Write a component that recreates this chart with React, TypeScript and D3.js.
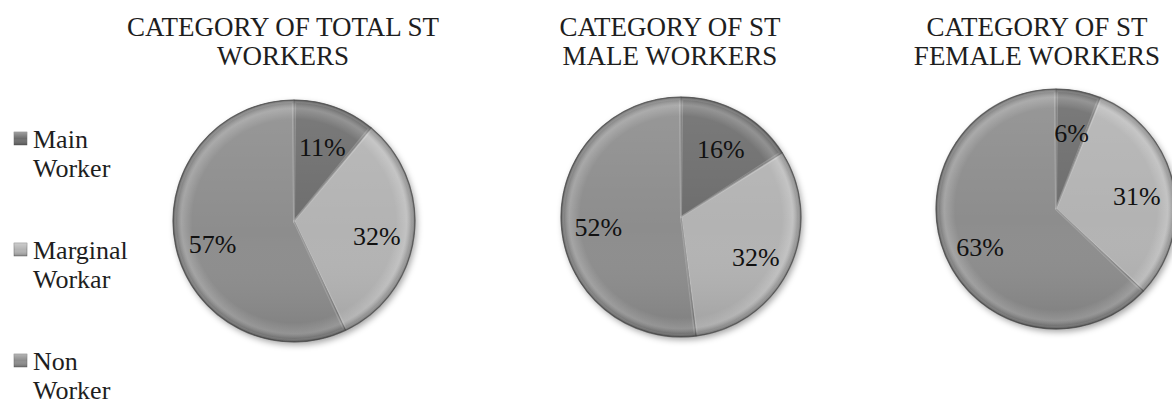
import React from "react";
import * as d3 from "d3";

const categories = ["Main Worker", "Marginal Workar", "Non Worker"];
const legendLines = [["Main", "Worker"], ["Marginal", "Workar"], ["Non", "Worker"]];
const totalValues = [11, 32, 57];
const maleValues = [16, 32, 52];
const femaleValues = [6, 31, 63];
const chartTitles = [
  ["CATEGORY OF TOTAL ST", "WORKERS"],
  ["CATEGORY OF ST", "MALE WORKERS"],
  ["CATEGORY OF ST", "FEMALE WORKERS"],
];
const sliceColors = ["#6d6d6d", "#b3b3b3", "#8d8d8d"];

const W = 1172;
const H = 405;
const SERIF = "Liberation Serif";

const pies = [
  { values: totalValues, title: chartTitles[0], cx: 294, cy: 221, r: 121, tx: 283 },
  { values: maleValues, title: chartTitles[1], cx: 681, cy: 217, r: 120, tx: 670 },
  { values: femaleValues, title: chartTitles[2], cx: 1056, cy: 209, r: 120, tx: 1037 },
];

const colorScale = d3.scaleOrdinal<string, string>().domain(categories).range(sliceColors);

function T(props: any) {
  const { children, ...rest } = props;
  return (
    <text {...rest} fontFamily={SERIF} style={{ fontFamily: `"${SERIF}"` }}>
      {children}
    </text>
  );
}

export default function App() {
  const pieGen = d3.pie<number>().sort(null).value((d) => d);
  return (
    <div style={{ position: "absolute", left: 0, top: 0 }}>
      <svg width={W} height={H} style={{ display: "block", background: "#fff" }}>
        <defs>
          <filter id="shadow" x="-20%" y="-20%" width="140%" height="140%">
            <feDropShadow dx="2" dy="3" stdDeviation="3" floodColor="#000" floodOpacity="0.35" />
          </filter>
          <radialGradient id="bevel" cx="50%" cy="50%" r="50%">
            <stop offset="0%" stopColor="#fff" stopOpacity="0" />
            <stop offset="84%" stopColor="#fff" stopOpacity="0" />
            <stop offset="93%" stopColor="#fff" stopOpacity="0.2" />
            <stop offset="100%" stopColor="#000" stopOpacity="0.35" />
          </radialGradient>
          <linearGradient id="light" x1="0" y1="0" x2="0" y2="1">
            <stop offset="0%" stopColor="#fff" stopOpacity="0.1" />
            <stop offset="55%" stopColor="#fff" stopOpacity="0" />
            <stop offset="100%" stopColor="#000" stopOpacity="0.12" />
          </linearGradient>
          <linearGradient id="legendGrad" x1="0" y1="0" x2="0" y2="1">
            <stop offset="0%" stopColor="#fff" stopOpacity="0.35" />
            <stop offset="50%" stopColor="#fff" stopOpacity="0" />
            <stop offset="100%" stopColor="#000" stopOpacity="0.25" />
          </linearGradient>
        </defs>

        {pies.map((p, pi) => {
          const arcs = pieGen(p.values);
          const arc = d3.arc<d3.PieArcDatum<number>>().innerRadius(0).outerRadius(p.r);
          const inner = d3
            .arc<d3.PieArcDatum<number>>()
            .innerRadius(0)
            .outerRadius(p.r - 2)
            .padAngle(0.02);
          const labelArc = d3
            .arc<d3.PieArcDatum<number>>()
            .innerRadius(p.r * 0.69)
            .outerRadius(p.r * 0.69);
          return (
            <g key={pi}>
              {p.title.map((t, i) => (
                <T key={i} x={p.tx} y={36 + i * 29} textAnchor="middle" fontSize={27} fill="#1e1e1e">
                  {t}
                </T>
              ))}
              <g transform={`translate(${p.cx},${p.cy})`}>
                <circle r={p.r} fill="#888" filter="url(#shadow)" />
                {arcs.map((a, i) => (
                  <path
                    key={i}
                    d={arc(a) || ""}
                    fill={colorScale(categories[i])}
                    stroke="#555"
                    strokeOpacity={0.6}
                    strokeWidth={1.2}
                    strokeLinejoin="round"
                  />
                ))}
                {arcs.map((a, i) => (
                  <path
                    key={"h" + i}
                    d={inner(a) || ""}
                    fill="none"
                    stroke="#fff"
                    strokeOpacity={0.18}
                    strokeWidth={2}
                  />
                ))}
                <circle r={p.r} fill="url(#bevel)" />
                <circle r={p.r} fill="url(#light)" />
                <circle r={p.r} fill="none" stroke="#555" strokeOpacity={0.5} strokeWidth={1} />
                {arcs.map((a, i) => {
                  const [x, y] = labelArc.centroid(a);
                  return (
                    <T key={"l" + i} x={x} y={y + 14} textAnchor="middle" fontSize={26} fill="#111">
                      {`${a.data}%`}
                    </T>
                  );
                })}
              </g>
            </g>
          );
        })}

        {categories.map((c, i) => {
          const base = 148 + i * 111;
          return (
            <g key={c}>
              <rect x={14} y={base - 16} width={13} height={13} fill={colorScale(c)} stroke="#666" strokeWidth={0.5} />
              <rect x={14} y={base - 16} width={13} height={13} fill="url(#legendGrad)" />
              {legendLines[i].map((t, j) => (
                <T key={j} x={33} y={base + j * 29} fontSize={26} fill="#1e1e1e">
                  {t}
                </T>
              ))}
            </g>
          );
        })}
      </svg>
    </div>
  );
}
